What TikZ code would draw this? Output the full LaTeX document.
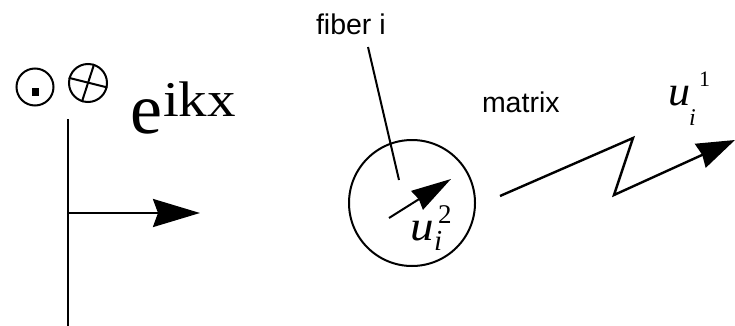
\documentclass[tikz,border=0pt]{standalone}
\usepackage{fontspec}
\setmainfont{Liberation Serif}
\newfontfamily\sansf{Liberation Sans}
\usetikzlibrary{arrows.meta}
\tikzset{
  thick line/.style={line width=2.6pt, line cap=butt},
  thin line/.style={line width=2pt},
  txt/.style={inner sep=0pt, outer sep=0pt, anchor=base west},
  sanslabel/.style={txt, font=\sansf\fontsize{28.5}{30}\selectfont},
}
\begin{document}
\begin{tikzpicture}[x=1pt,y=-1pt]
\useasboundingbox (0,0) rectangle (735,326);
% left symbols
\node[circle, draw, thin line, minimum size=37pt, inner sep=0] (dot) at (35,87) {};
\node[fill, minimum size=7.5pt, inner sep=0] (dotsq) at (35.5,92) {};
\node[circle, draw, thin line, minimum size=38pt, inner sep=0] (cross) at (88,83) {};
\draw[thin line] (cross.165) -- (cross.-13);
\draw[thin line] (cross.72) -- (cross.252);
% e^ikx
\node[txt, font=\fontsize{72}{72}\selectfont] (ee) at (130,133) {e};
\node[txt, font=\fontsize{50}{50}\selectfont, xscale=1.14] (ikx) at (163,116) {ikx};
% axis
\coordinate (vtop) at (68,119);
\coordinate (vbot) at (68,327);
\draw[thick line] (vtop) -- (vbot);
\coordinate (hs) at (68,213);
\coordinate (ht) at (200,213);
\draw[thick line, -{Stealth[length=47pt,width=28pt,inset=5pt]}] (hs) -- (ht);
% fiber
\node[circle, draw, thin line, minimum size=126pt, inner sep=0] (fiber) at (412,203) {};
\node[sanslabel] (fibtxt) at (316,35) {fiber i};
\coordinate (lead0) at (368,47);
\coordinate (lead1) at (399,180);
\draw[thin line] (lead0) -- (lead1);
\coordinate (ia0) at (389,218);
\coordinate (ia1) at (451,179);
\draw[thin line, -{Stealth[length=40pt,width=22pt,inset=2pt]}] (ia0) -- (ia1);
\node[txt, font=\itshape\fontsize{42}{42}\selectfont, xscale=1.12] (u2) at (410,240) {u};
\node[txt, font=\itshape\fontsize{29}{29}\selectfont] (u2sub) at (434,250) {i};
\node[txt, font=\fontsize{27}{27}\selectfont] (u2sup) at (438,223) {2};
% matrix
\node[sanslabel] (mtxt) at (482,112) {matrix};
\coordinate (z0) at (500,196);
\coordinate (z1) at (633,138);
\coordinate (z2) at (614,195);
\coordinate (z3) at (735,140);
\draw[thin line, line width=2.4pt, line join=miter, -{Stealth[length=38pt,width=26pt,inset=2pt]}] (z0) -- (z1) -- (z2) -- (z3);
\node[txt, font=\itshape\fontsize{42}{42}\selectfont, xscale=1.05] (u1) at (668,106) {u};
\node[txt, font=\itshape\fontsize{24}{24}\selectfont] (u1sub) at (689,125) {i};
\node[txt, font=\fontsize{22}{22}\selectfont] (u1sup) at (699,87) {1};
\end{tikzpicture}
\end{document}
